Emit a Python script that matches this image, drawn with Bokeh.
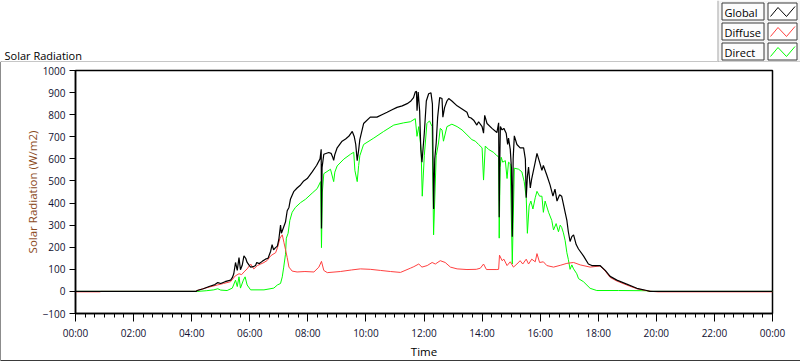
from bokeh.plotting import figure
from bokeh.layouts import column
from bokeh.models import Range1d, FixedTicker
from bokeh.core.properties import value
from bokeh.embed import file_html
from bokeh.resources import INLINE

# ---------------- data (hours of day, W/m2) ----------------
global_t = [0, 4.15, 4.19, 4.4, 4.6, 4.8, 4.9, 5.0, 5.15, 5.34, 5.40, 5.45, 5.51, 5.57, 5.63, 5.68, 5.74,
            5.80, 5.86, 5.91, 5.97, 6.03, 6.12, 6.2, 6.24, 6.33, 6.43, 6.54, 6.63, 6.72, 6.77, 6.82, 6.88,
            6.95, 7.0, 7.06, 7.09, 7.15, 7.23, 7.29, 7.35, 7.40, 7.52, 7.63, 7.75, 7.86, 7.98, 8.15, 8.30,
            8.42, 8.46, 8.47, 8.49, 8.55, 8.72, 8.80, 8.85, 8.89, 8.93, 9.01, 9.18, 9.30, 9.41, 9.53, 9.60,
            9.65, 9.70, 9.75, 9.79, 9.92, 10.15, 10.38, 10.55, 10.73, 10.9, 11.07, 11.25, 11.42, 11.55,
            11.64, 11.70, 11.74, 11.76, 11.80, 11.85, 11.89, 11.93, 11.97, 12.01, 12.08, 12.16, 12.24,
            12.29, 12.33, 12.37, 12.42, 12.47, 12.54, 12.62, 12.65, 12.71, 12.79, 12.85, 12.96, 13.14,
            13.31, 13.48, 13.54, 13.62, 13.71, 13.82, 13.88, 14.0, 14.05, 14.09, 14.17, 14.34, 14.51,
            14.57, 14.59, 14.61, 14.63, 14.69, 14.75, 14.83, 14.88, 14.91, 14.97, 15.01, 15.04, 15.07,
            15.11, 15.20, 15.31, 15.43, 15.49, 15.52, 15.56, 15.60, 15.66, 15.71, 15.83, 15.89, 15.98,
            16.06, 16.11, 16.23, 16.34, 16.44, 16.51, 16.58, 16.67, 16.74, 16.80, 16.86, 16.92, 16.97,
            17.03, 17.09, 17.15, 17.24, 17.32, 17.49, 17.66, 17.78, 18.06, 18.24, 18.41, 18.64, 18.98,
            19.33, 19.67, 19.78, 24]
global_v = [0, 0, 4, 12, 22, 31, 40, 36, 44, 51, 62, 80, 131, 95, 153, 98, 118,
            161, 150, 131, 120, 110, 112, 117, 131, 126, 136, 146, 150, 182, 212, 188, 197,
            205, 234, 300, 263, 285, 314, 365, 380, 417, 453, 468, 482, 500, 511, 541, 570,
            600, 643, 285, 560, 621, 629, 625, 610, 593, 620, 650, 680, 690, 702, 724, 700,
            665, 592, 640, 687, 760, 789, 789, 800, 811, 822, 833, 840, 850, 862,
            877, 903, 906, 818, 902, 818, 643, 585, 650, 716, 862, 895, 899,
            848, 373, 600, 672, 789, 877, 873, 789, 833, 862, 873, 862, 840,
            826, 811, 789, 785, 775, 753, 768, 746, 716, 797, 760, 738, 719,
            763, 336, 600, 746, 731, 738, 716, 665, 694, 643, 560, 248, 600,
            704, 665, 650, 650, 599, 424, 520, 563, 468, 511, 585, 625, 585,
            548, 570, 526, 482, 431, 463, 409, 438, 431, 395, 358, 321, 270,
            226, 248, 256, 212, 192, 161, 124, 117, 117, 95, 68, 51, 33,
            14, 4, 0, 0]

diffuse_t = [0, 0.85, 0.87, 4.15, 4.19, 4.5, 4.88, 5.1, 5.34, 5.5, 5.63, 5.72, 5.80, 5.91, 6.03, 6.14,
             6.26, 6.38, 6.49, 6.6, 6.72, 6.80, 6.89, 6.96, 7.04, 7.12, 7.18, 7.23, 7.29, 7.35, 7.46,
             7.63, 7.9, 8.21, 8.38, 8.47, 8.55, 8.67, 9.12, 9.5, 9.81, 10.15, 10.5, 10.85, 11.19,
             11.53, 11.65, 11.82, 11.93, 12.11, 12.28, 12.39, 12.56, 12.73, 12.91, 13.14, 13.48, 13.8,
             13.94, 14.05, 14.15, 14.51, 14.57, 14.6, 14.69, 14.75, 14.86, 14.97, 15.08, 15.2, 15.31,
             15.40, 15.52, 15.60, 15.71, 15.83, 15.89, 15.98, 16.11, 16.23, 16.46, 16.69, 16.92,
             17.15, 17.38, 17.72, 18.06, 18.24, 18.41, 18.64, 18.98, 19.33, 19.67, 19.85, 20.06, 24]
diffuse_v = [-2, -2, 0, 0, 4, 16, 29, 36, 44, 70, 80, 76, 88, 102, 124, 102,
             117, 124, 131, 140, 161, 168, 175, 200, 241, 256, 220, 190, 153, 110, 92,
             88, 90, 88, 110, 136, 95, 85, 90, 97, 102, 100, 95, 90, 86,
             105, 112, 124, 110, 117, 131, 124, 139, 131, 110, 102, 99, 100,
             105, 124, 99, 99, 100, 164, 139, 146, 117, 134, 110, 124, 139,
             124, 146, 124, 146, 134, 171, 131, 134, 117, 110, 118, 127,
             131, 120, 110, 115, 92, 63, 47, 29, 12, 3, 0, -2, -2]

direct_t = [0, 4.19, 4.5, 4.76, 4.9, 5.0, 5.22, 5.40, 5.51, 5.57, 5.63, 5.68, 5.78, 5.84, 5.91, 6.03,
            6.49, 6.83, 6.95, 7.06, 7.12, 7.17, 7.23, 7.26, 7.32, 7.38, 7.46, 7.57, 7.75, 7.92, 8.15,
            8.32, 8.44, 8.47, 8.50, 8.55, 8.78, 8.89, 8.93, 9.01, 9.24, 9.47, 9.58, 9.62, 9.70, 9.75,
            9.79, 9.92, 10.27, 10.61, 10.96, 11.3, 11.53, 11.70, 11.76, 11.82, 11.90, 11.94, 12.01,
            12.10, 12.19, 12.28, 12.33, 12.42, 12.50, 12.56, 12.62, 12.67, 12.79, 12.96, 13.14, 13.31,
            13.48, 13.65, 13.77, 13.88, 14.0, 14.05, 14.11, 14.22, 14.40, 14.51, 14.57, 14.59, 14.62,
            14.66, 14.71, 14.80, 14.86, 14.91, 14.97, 15.04, 15.11, 15.26, 15.37, 15.45, 15.52, 15.56,
            15.62, 15.68, 15.75, 15.83, 15.89, 15.98, 16.06, 16.11, 16.17, 16.29, 16.40, 16.46, 16.55,
            16.63, 16.69, 16.74, 16.80, 16.86, 16.92, 16.97, 17.03, 17.09, 17.15, 17.26, 17.32, 17.49,
            17.72, 17.95, 18.7, 19.67, 19.78, 24]
direct_v = [0, 0, 3, 7, 12, 6, 4, 15, 51, 22, 66, 15, 51, 66, 29, 7,
            7, 15, 29, 36, 66, 110, 168, 241, 263, 321, 358, 380, 402, 417, 445,
            465, 497, 198, 450, 533, 553, 497, 540, 568, 599, 621, 630, 548, 497, 570,
            614, 665, 694, 724, 753, 763, 768, 782, 702, 746, 643, 431, 614,
            760, 772, 746, 256, 614, 672, 738, 731, 680, 746, 757, 746, 731,
            709, 687, 680, 665, 650, 504, 658, 643, 629, 614, 610, 241, 560,
            607, 585, 592, 511, 585, 578, 124, 558, 553, 541, 497, 424, 263,
            387, 409, 373, 424, 453, 431, 431, 358, 409, 358, 321, 278, 307,
            270, 300, 290, 265, 230, 175, 145, 100, 120, 102, 80, 58, 44,
            14, 4, 4, 3, 0, 0]

x_tick_hours = [0, 2, 4, 6, 8, 10, 12, 14, 16, 18, 20, 22, 24]
x_tick_labels = ["00:00", "02:00", "04:00", "06:00", "08:00", "10:00", "12:00",
                 "14:00", "16:00", "18:00", "20:00", "22:00", "00:00"]
y_ticks = [-100, 0, 100, 200, 300, 400, 500, 600, 700, 800, 900, 1000]
series_names = ["Global", "Diffuse", "Direct"]
series_colors = ["#000000", "#ff4040", "#00ff00"]
chart_title = "Solar Radiation"
x_title = "Time"
y_title = "Solar Radiation (W/m2)"

# ---------------- layout constants (pixels) ----------------
W = 800
TOP_H = 62           # header strip: chart title + legend
MAIN_H = 361 - TOP_H
FL, FR = 75, 772     # plot frame left/right
FT, FB = 70, 321     # plot frame top/bottom (page pixels)
FONT = "Open Sans"

# ---------------- header strip (title + legend) ----------------
top = figure(width=W, height=TOP_H, output_backend="svg", toolbar_location=None,
             x_range=Range1d(0, W), y_range=Range1d(TOP_H, 0),
             x_axis_location=None, y_axis_location=None,
             min_border=0, min_border_left=0, min_border_right=0,
             min_border_top=0, min_border_bottom=0)
top.frame_align = False
top.grid.visible = False
top.outline_line_color = None
top.background_fill_color = "white"
top.border_fill_color = "white"

# outer panel frame (top + left edges)
top.line([0, 717], [TOP_H - 0.5, TOP_H - 0.5], line_color="#8c8c8c", line_width=1)
top.line([0.5, 0.5], [TOP_H - 1, TOP_H], line_color="#8c8c8c", line_width=1)
top.text([4], [55], text=[chart_title], text_font=value(FONT), text_font_size="11px",
         text_color="black", text_baseline="alphabetic", text_align="left")

# legend panel
top.quad(left=[717], right=[W], top=[0], bottom=[TOP_H], fill_color="#f4f4f4", line_color=None)
top.line([717.5, 717.5], [0, TOP_H - 0.5], line_color="#a8a8a8", line_width=1)
top.line([717.5, W], [TOP_H - 0.5, TOP_H - 0.5], line_color="#a8a8a8", line_width=1)
rows = [(2.5, 19.5), (22.5, 39.5), (42.5, 59.5)]
for (rt, rb), name, col in zip(rows, series_names, series_colors):
    top.quad(left=[721.5], right=[763.5], top=[rt], bottom=[rb],
             fill_color="#fcfcfc", line_color="#3a3a3a", line_width=1)
    top.text([724], [(rt + rb) / 2 + 0.5], text=[name], text_font=value(FONT),
             text_font_size="11px", text_color="black", text_baseline="middle",
             text_align="left")
    top.quad(left=[767.5], right=[796.5], top=[rt], bottom=[rb],
             fill_color="white", line_color="#3a3a3a", line_width=1)
    top.line([770, 777.5, 786, 794.5], [rb - 3.5, rt + 4.5, rb - 3.5, rt + 3.5],
             line_color=col, line_width=1)

# ---------------- main chart ----------------
p = figure(width=W, height=MAIN_H, output_backend="svg", toolbar_location=None,
           x_range=Range1d(0, 24), y_range=Range1d(-100, 1000),
           min_border_left=FL, min_border_right=W - FR,
           min_border_top=FT - TOP_H, min_border_bottom=361 - FB)
p.frame_align = False
p.background_fill_color = "white"
p.border_fill_alpha = 0
p.styles = {"box-shadow": "inset 1px 0 0 #8c8c8c, inset 0 -1px 0 #3a3a3a",
            "background-color": "white"}
p.outline_line_color = "black"
p.outline_line_width = 1.5
p.xgrid.visible = False
p.ygrid.visible = False

minor = [i / 3 for i in range(0, 73)]
p.xaxis.ticker = FixedTicker(ticks=x_tick_hours, minor_ticks=minor)
p.xaxis.major_label_overrides = {h: s for h, s in zip(x_tick_hours, x_tick_labels)}
p.yaxis.ticker = FixedTicker(ticks=y_ticks, minor_ticks=[])
for ax in (p.xaxis, p.yaxis):
    ax.axis_line_color = "black"
    ax.axis_line_width = 1.5
    ax.major_tick_line_color = "black"
    ax.minor_tick_line_color = "black"
    ax.major_tick_in = 0
    ax.minor_tick_in = 0
    ax.major_label_text_font = FONT
    ax.major_label_text_font_size = "10px"
    ax.major_label_text_color = "#101030"
    ax.axis_label_text_font = FONT
    ax.axis_label_text_font_size = "11.5px"
    ax.axis_label_text_font_style = "normal"
p.xaxis.major_tick_out = 8
p.xaxis.minor_tick_out = 4
p.xaxis.major_label_standoff = 4
p.xaxis.axis_label = x_title
p.xaxis.axis_label_text_color = "black"
p.xaxis.axis_label_standoff = 1
p.yaxis.major_tick_out = 6
p.yaxis.major_label_standoff = 4
p.yaxis.axis_label = y_title
p.yaxis.axis_label_text_color = "#8b4a1c"
p.yaxis.axis_label_standoff = 0

p.line(direct_t, direct_v, color=series_colors[2], line_width=1)
p.line(diffuse_t, diffuse_v, color=series_colors[1], line_width=1)
p.line(global_t, global_v, color=series_colors[0], line_width=1.2)

layout = column(top, p, spacing=0)
open("out.html", "w").write(file_html(layout, INLINE))
